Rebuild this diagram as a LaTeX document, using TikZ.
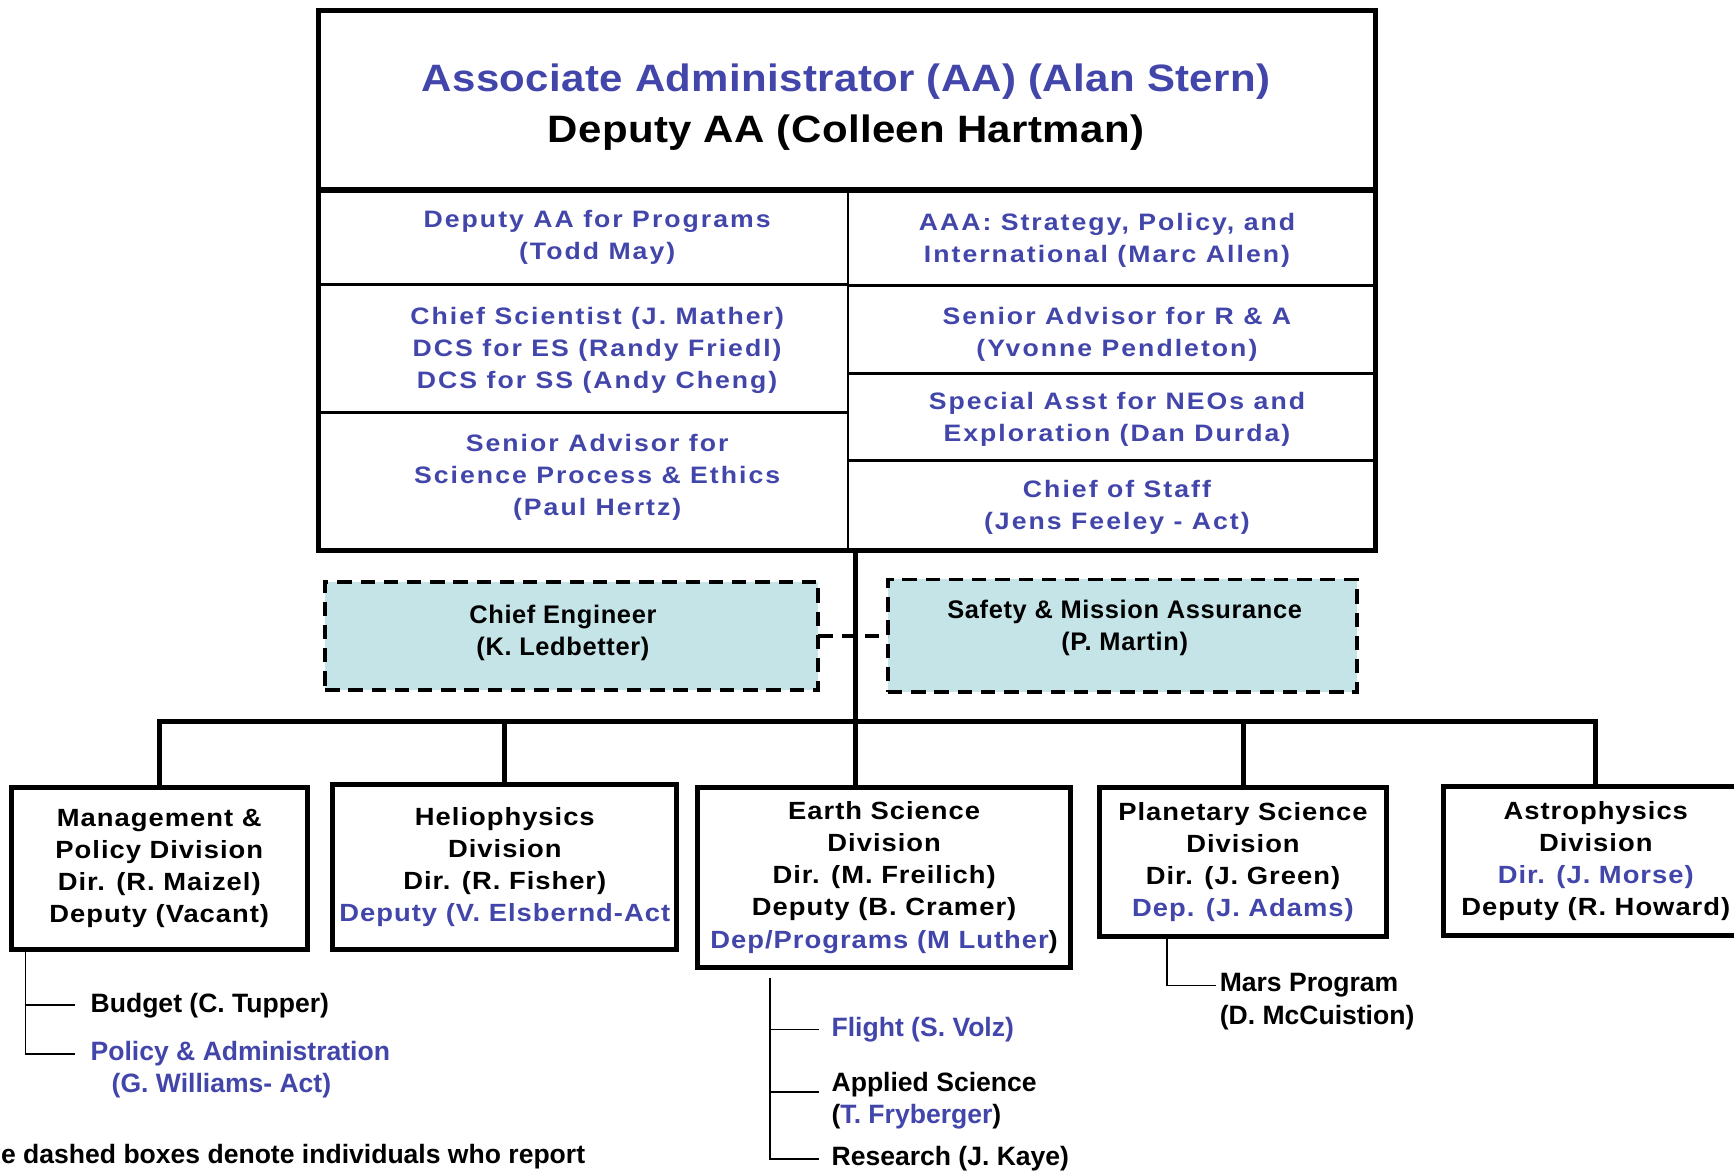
\documentclass[tikz,border=0pt]{standalone}
\usepackage{fontspec}
\setmainfont{Liberation Sans}
\newfontfamily\titlefont{Liberation Sans}[FakeStretch=1.1, LetterSpace=1]
\newfontfamily\cellfont{Liberation Sans}[FakeStretch=1.12, LetterSpace=8.5]
\newfontfamily\divfont{Liberation Sans}[FakeStretch=1.1, LetterSpace=4]
\newfontfamily\dashfont{Liberation Sans}[LetterSpace=2.5]
\definecolor{blu}{RGB}{66,70,170}
\definecolor{cefill}{RGB}{197,228,232}
\begin{document}
\begin{tikzpicture}[x=1pt,y=-1pt,
  every node/.style={inner sep=0pt, outer sep=0pt},
  titletext/.style={font=\titlefont\bfseries\fontsize{34.5}{46}\selectfont, align=center},
  celltext/.style={font=\cellfont\bfseries\fontsize{21.5}{29}\selectfont, text=blu, align=center},
  divbox/.style={draw, line width=4.5pt, align=center, font=\divfont\bfseries\fontsize{22.5}{29}\selectfont},
  dashbox/.style={draw, line width=3.5pt, dash pattern=on 13pt off 8pt, fill=cefill},
  dashtext/.style={font=\dashfont\bfseries\fontsize{23}{29}\selectfont, align=center},
  subtext/.style={font=\bfseries\fontsize{24}{29}\selectfont, anchor=west},
  conn/.style={line width=4.5pt},
  subconn/.style={line width=1.5pt},
  cellline/.style={line width=2.5pt},
]
\fill[white] (0,0) rectangle (1568,1060);
\useasboundingbox (0,0) rectangle (1568,1060);

% ---- top box ----
\node[draw, line width=4.5pt, minimum width=956pt, minimum height=488.5pt] (top) at (766,253.75) {};
\draw[line width=5pt] (288,172) -- (1244,172);
\draw[line width=1.5pt] (767,172) -- (767,498);
\draw[cellline] (288,257.5) -- (767,257.5);
\draw[cellline] (288,373) -- (767,373);
\draw[cellline] (767,258) -- (1244,258);
\draw[cellline] (767,337.5) -- (1244,337.5);
\draw[cellline] (767,416.5) -- (1244,416.5);

\node[titletext, text=blu] (aa) at (765,74) {Associate Administrator (AA) (Alan Stern)};
\node[titletext] (daa) at (765,120) {Deputy AA (Colleen Hartman)};

\node[celltext] (dp) at (540,214.5) {Deputy AA for Programs\\(Todd May)};
\node[celltext] (aaa) at (1001,217.5) {AAA: Strategy, Policy, and\\International (Marc Allen)};
\node[celltext] (cs) at (540,317) {Chief Scientist (J. Mather)\\DCS for ES (Randy Friedl)\\DCS for SS (Andy Cheng)};
\node[celltext] (sra) at (1010,302.5) {Senior Advisor for R \& A\\(Yvonne Pendleton)};
\node[celltext] (neo) at (1010,379.5) {Special Asst for NEOs and\\Exploration (Dan Durda)};
\node[celltext] (spe) at (540,432) {Senior Advisor for\\Science Process \& Ethics\\(Paul Hertz)};
\node[celltext] (cos) at (1010,459) {Chief of Staff\\(Jens Feeley - Act)};

% ---- dashed boxes ----
\node[dashbox, minimum width=446pt, minimum height=98pt] (ce) at (517,575) {};
\node[dashbox, minimum width=424pt, minimum height=102pt] (sma) at (1015,575) {};
\node[dashtext] (cet) at (509,572) {Chief Engineer\\(K. Ledbetter)};
\node[dashtext] (smat) at (1017,568) {Safety \& Mission Assurance\\(P. Martin)};
\draw[line width=3.5pt, dash pattern=on 13pt off 8pt] (ce.east) -- (sma.west);

% ---- divisions ----
\node[divbox, minimum width=268pt, minimum height=147pt] (mgmt) at (144,785.5)
  {Management \&\\Policy Division\\Dir. (R. Maizel)\\Deputy (Vacant)};
\node[divbox, minimum width=311pt, minimum height=150pt] (helio) at (456.5,784)
  {Heliophysics\\Division\\Dir. (R. Fisher)\\\textcolor{blu}{Deputy (V. Elsbernd-Act}};
\node[divbox, minimum width=337pt, minimum height=163pt] (earth) at (799.5,793.5)
  {Earth Science\\Division\\Dir. (M. Freilich)\\Deputy (B. Cramer)\\\textcolor{blu}{Dep/Programs (M Luther})};
\node[divbox, minimum width=260pt, minimum height=135pt] (plan) at (1124,779.5)
  {Planetary Science\\Division\\Dir. (J. Green)\\\textcolor{blu}{Dep. (J. Adams)}};
\node[divbox, minimum width=276pt, minimum height=135pt] (astro) at (1443,778.5)
  {Astrophysics\\Division\\\textcolor{blu}{Dir. (J. Morse)}\\Deputy (R. Howard)};

% ---- main connectors ----
\coordinate (j0) at (774,652);
\draw[conn] (j0 |- top.south) -- (j0 |- earth.north);
\draw[conn] (mgmt.north) -- (mgmt.north |- j0) -- (astro.north |- j0) -- (astro.north);
\draw[conn] (helio.north) -- (helio.north |- j0);
\draw[conn] (plan.north) -- (plan.north |- j0);

% ---- management sub-items ----
\coordinate (mv) at (23,862);
\node[subtext] (budget) at (82,909) {Budget (C. Tupper)};
\node[subtext, text=blu] (policy) at (82,953) {Policy \& Administration};
\node[subtext, text=blu] (policy2) at (101,982) {(G. Williams- Act)};
\draw[subconn] (mgmt.south -| mv) |- ([xshift=-14pt]policy.west);
\draw[subconn] (mv |- budget.west) -- ([xshift=-14pt]budget.west);

% ---- earth sub-items ----
\coordinate (ev) at (696,884);
\node[subtext, text=blu] (flight) at (752,931) {Flight (S. Volz)};
\node[subtext] (applied) at (752,981) {Applied Science};
\node[subtext] (applied2) at (752,1010) {(\textcolor{blu}{T. Fryberger})};
\node[subtext] (research) at (752,1048) {Research (J. Kaye)};
\draw[subconn] (ev) |- ([xshift=-11pt]research.west);
\draw[subconn] (ev |- flight.west) -- ([xshift=-11pt]flight.west);
\draw[subconn] (ev |- applied.base west) -- ([xshift=-11pt]applied.base west);

% ---- planetary sub-item ----
\coordinate (pv) at (1055,847);
\node[subtext] (mars) at (1103,891) {Mars Program};
\node[subtext] (mars2) at (1103,920) {(D. McCuistion)};
\draw[subconn] (plan.south -| pv) |- ([xshift=-3pt]mars.west);

% ---- note ----
\node[subtext] (note) at (1,1046) {e dashed boxes denote individuals who report};
\end{tikzpicture}
\end{document}
